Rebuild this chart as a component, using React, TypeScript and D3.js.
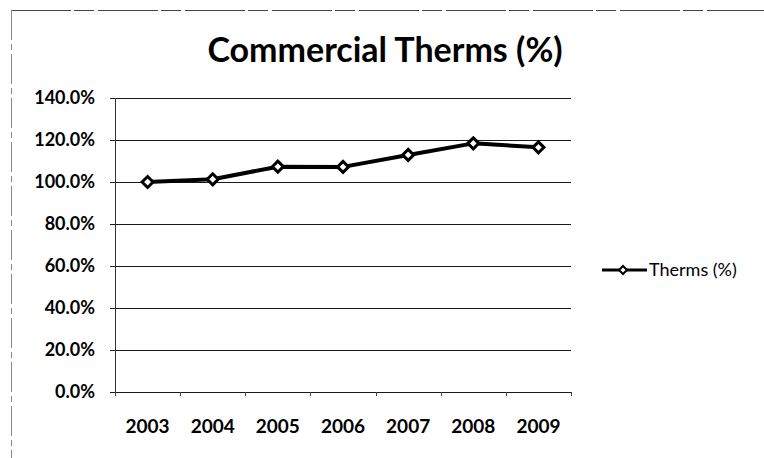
import React from "react";
import * as d3 from "d3";

const years = ["2003", "2004", "2005", "2006", "2007", "2008", "2009"];
const thermsPct = [100.0, 101.3, 107.3, 107.2, 112.9, 118.4, 116.5];
const yTicks = [0, 20, 40, 60, 80, 100, 120, 140];
const seriesName = "Therms (%)";
const titleText = "Commercial Therms (%)";

const W = 764;
const H = 458;
const plot = { left: 115, right: 571, top: 98, bottom: 392 };
const FONT = "Lato, 'Open Sans', sans-serif";

export default function App() {
  const x = d3.scaleBand().domain(years).range([plot.left, plot.right]);
  const y = d3.scaleLinear().domain([0, 140]).range([plot.bottom, plot.top]);
  const cx = (d: string) => (x(d) as number) + x.bandwidth() / 2;
  const line = d3
    .line<number>()
    .x((_, i) => cx(years[i]))
    .y((v) => y(v));
  const diamond = (px: number, py: number, r: number) =>
    `M${px},${py - r}L${px + r},${py}L${px},${py + r}L${px - r},${py}Z`;

  return (
    <svg
      width={W}
      height={H}
      style={{ position: "absolute", left: 0, top: 0, background: "#fff" }}
    >
      <rect x={0} y={0} width={W} height={H} fill="#fff" />
      {/* chart border */}
      <line x1={11} y1={10.5} x2={W} y2={10.5} stroke="#444" strokeWidth={1} strokeDasharray="60 3 20 4" />
      <line x1={11.5} y1={10} x2={11.5} y2={H} stroke="#888" strokeWidth={1} strokeDasharray="30 4 6 4" />

      <text
        x={385}
        y={62}
        textAnchor="middle"
        fontFamily={FONT}
        fontWeight={700}
        fontSize={34}
        fill="#000"
      >
        {titleText}
      </text>

      {/* gridlines */}
      {yTicks.map((t) => (
        <g key={t}>
          <line
            x1={plot.left - 5}
            x2={plot.right}
            y1={Math.round(y(t)) + 0.5}
            y2={Math.round(y(t)) + 0.5}
            stroke="#1a1a1a"
            strokeWidth={1}
          />
          <text
            x={95}
            y={y(t)}
            dy="0.35em"
            textAnchor="end"
            fontFamily={FONT}
            fontWeight={700}
            fontSize={18}
            fill="#000"
          >
            {t.toFixed(1) + "%"}
          </text>
        </g>
      ))}
      {/* y axis line */}
      <line x1={plot.left + 0.5} x2={plot.left + 0.5} y1={plot.top} y2={plot.bottom} stroke="#333" strokeWidth={1} />
      {/* x ticks */}
      {years.concat(["end"]).map((d, i) => {
        const xx = Math.round(plot.left + i * x.step()) + 0.5;
        return <line key={d} x1={xx} x2={xx} y1={plot.bottom} y2={plot.bottom + 4} stroke="#444" />;
      })}
      {years.map((d) => (
        <text
          key={d}
          x={cx(d)}
          y={433}
          textAnchor="middle"
          fontFamily={FONT}
          fontWeight={700}
          fontSize={19}
          fill="#000"
        >
          {d}
        </text>
      ))}

      {/* series */}
      <path d={line(thermsPct) as string} fill="none" stroke="#000" strokeWidth={4} strokeLinejoin="round" />
      {thermsPct.map((v, i) => (
        <path
          key={i}
          d={diamond(cx(years[i]), y(v), 5.5)}
          fill="#fff"
          stroke="#000"
          strokeWidth={3}
        />
      ))}

      {/* legend */}
      <line x1={602} x2={647} y1={270} y2={270} stroke="#000" strokeWidth={3} />
      <path d={diamond(623, 270, 4)} fill="#fff" stroke="#000" strokeWidth={2} />
      <text x={649} y={270} dy="0.35em" fontFamily={FONT} fontSize={18} fill="#000">
        {seriesName}
      </text>
    </svg>
  );
}
